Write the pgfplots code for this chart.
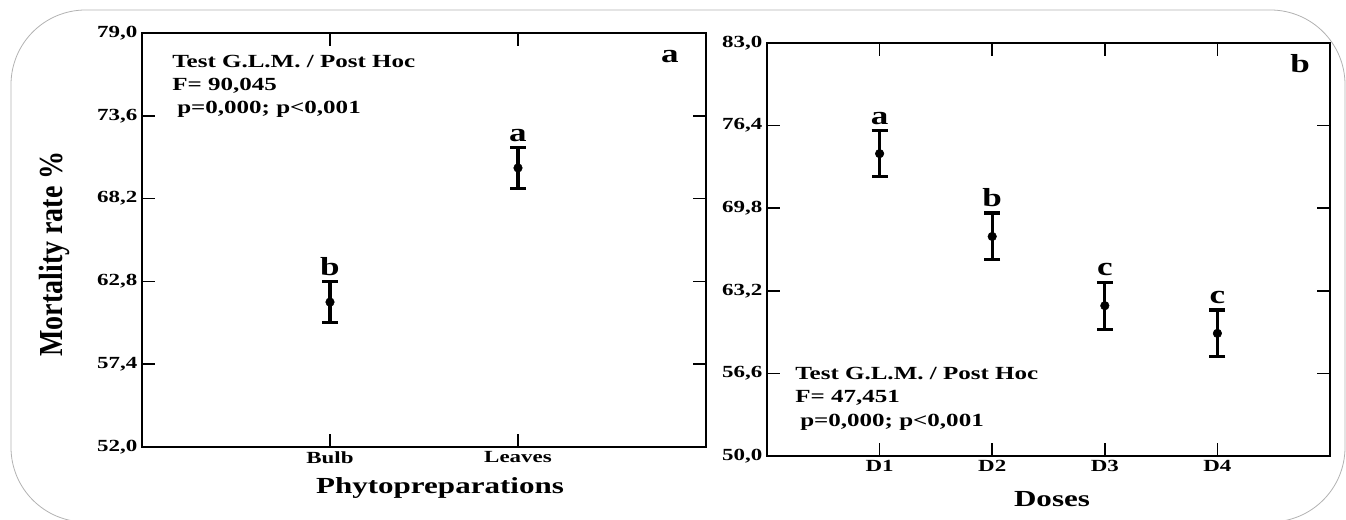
\documentclass[border=0pt]{standalone}
\usepackage{fontspec}
\setmainfont{Liberation Serif}[FakeStretch=1.35]
\newfontfamily\ylabfont{Liberation Serif}
\usepackage{graphicx}
\usepackage{pgfplots}
\pgfplotsset{compat=1.18}
\pgfplotsset{
  myaxis/.style={
    scale only axis,
    axis line style={line width=1.5pt},
    tick align=inside,
    major tick length=10pt,
    every tick/.style={black, line width=1.1pt},
    tick label style={font=\fontsize{12.75}{14}\selectfont\bfseries},
    /pgf/number format/assume math mode=true,
    clip=false,
    xmin=0,
  },
  errplot/.style={black, only marks, mark=*, mark size=3.2pt,
    error bars/.cd, y dir=both, y explicit,
    error mark=-,
    error bar style={line width=2.4pt, black},
    error mark options={rotate=90, black, line width=2.4pt, mark size=6pt}},
}
\pgfplotstableread{
x y e
1 61.45 1.34
2 70.20 1.33
}\tabA
\pgfplotstableread{
x y e
1 74.16 1.84
2 67.54 1.87
3 62.01 1.88
4 59.80 1.87
}\tabB
\begin{document}
\begin{tikzpicture}
\useasboundingbox (0,0) rectangle (1009.5pt,390pt);
\draw[gray!60, line width=0.6pt, rounded corners=56pt] (8.25pt,-1.5pt) rectangle (1008.75pt,382.5pt);

% Left panel
\begin{axis}[myaxis,
  at={(106.5pt,54.75pt)}, anchor=south west,
  width=423pt, height=310.5pt,
  xmax=3, ymin=52, ymax=79,
  xtick={1,2}, xticklabels={Bulb,Leaves},
  ytick={52,57.4,62.8,68.2,73.6,79},
  yticklabels={{52,0},{57,4},{62,8},{68,2},{73,6},{79,0}},
]
\addplot[errplot] table[x=x, y=y, y error=e] {\tabA};
\node[anchor=south, inner sep=0pt, yshift=4.5pt, font=\fontsize{19.5}{22}\selectfont\bfseries] at (axis cs:1,62.79) {b};
\node[anchor=south, inner sep=0pt, yshift=4.5pt, font=\fontsize{19.5}{22}\selectfont\bfseries] at (axis cs:2,71.53) {a};
\node[anchor=base, inner sep=0pt, xshift=-27pt, yshift=-22.5pt, font=\fontsize{19.5}{22}\selectfont\bfseries] at (rel axis cs:1,1) {a};
\node[anchor=base west, inner sep=0pt, xshift=22.5pt, yshift=-26.25pt, font=\fontsize{13.9}{16}\selectfont\bfseries] at (rel axis cs:0,1) {Test G.L.M. / Post Hoc};
\node[anchor=base west, inner sep=0pt, xshift=22.5pt, yshift=-43.5pt, font=\fontsize{13.9}{16}\selectfont\bfseries] at (rel axis cs:0,1) {F= 90,045};
\node[anchor=base west, inner sep=0pt, xshift=26.25pt, yshift=-60.75pt, font=\fontsize{13.9}{16}\selectfont\bfseries] at (rel axis cs:0,1) {p=0,000; p<0,001};
\end{axis}

% Right panel
\begin{axis}[myaxis,
  at={(575.25pt,48pt)}, anchor=south west,
  width=422.25pt, height=309.75pt,
  xmax=5, ymin=50, ymax=83,
  xtick={1,2,3,4}, xticklabels={D1,D2,D3,D4},
  ytick={50,56.6,63.2,69.8,76.4,83},
  yticklabels={{50,0},{56,6},{63,2},{69,8},{76,4},{83,0}},
]
\addplot[errplot] table[x=x, y=y, y error=e] {\tabB};
\node[anchor=south, inner sep=0pt, yshift=4.5pt, font=\fontsize{19.5}{22}\selectfont\bfseries] at (axis cs:1,76.0) {a};
\node[anchor=south, inner sep=0pt, yshift=4.5pt, font=\fontsize{19.5}{22}\selectfont\bfseries] at (axis cs:2,69.41) {b};
\node[anchor=south, inner sep=0pt, yshift=4.5pt, font=\fontsize{19.5}{22}\selectfont\bfseries] at (axis cs:3,63.89) {c};
\node[anchor=south, inner sep=0pt, yshift=4.5pt, font=\fontsize{19.5}{22}\selectfont\bfseries] at (axis cs:4,61.67) {c};
\node[anchor=base, inner sep=0pt, xshift=-22.5pt, yshift=-22.5pt, font=\fontsize{19.5}{22}\selectfont\bfseries] at (rel axis cs:1,1) {b};
\node[anchor=base west, inner sep=0pt, xshift=21pt, yshift=57pt, font=\fontsize{13.9}{16}\selectfont\bfseries] at (rel axis cs:0,0) {Test G.L.M. / Post Hoc};
\node[anchor=base west, inner sep=0pt, xshift=21pt, yshift=39.75pt, font=\fontsize{13.9}{16}\selectfont\bfseries] at (rel axis cs:0,0) {F= 47,451};
\node[anchor=base west, inner sep=0pt, xshift=24.75pt, yshift=21.75pt, font=\fontsize{13.9}{16}\selectfont\bfseries] at (rel axis cs:0,0) {p=0,000; p<0,001};
\end{axis}

% Axis titles
\node[rotate=90, anchor=center, inner sep=0pt] at (40.5pt,199.5pt) {\ylabfont\bfseries\fontsize{21}{24}\selectfont\scalebox{1}[1.2]{Mortality rate \%}};
\node[anchor=base, inner sep=0pt, font=\fontsize{17.25}{20}\selectfont\bfseries] at (330pt,19.5pt) {Phytopreparations};
\node[anchor=base, inner sep=0pt, font=\fontsize{17.25}{20}\selectfont\bfseries] at (789pt,9.75pt) {Doses};
\end{tikzpicture}
\end{document}
